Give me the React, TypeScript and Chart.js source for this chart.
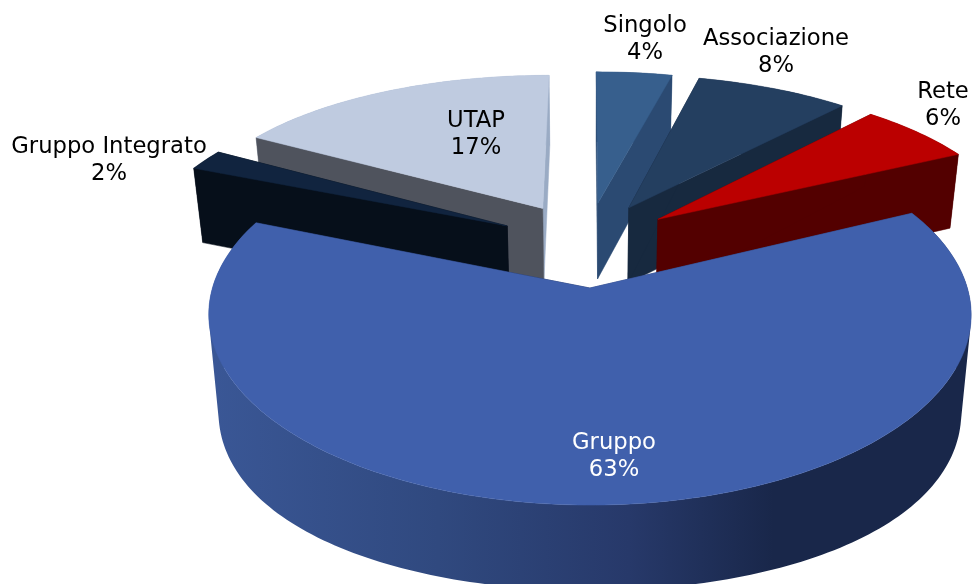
import React, { useEffect, useRef } from "react";
import { Chart, registerables } from "chart.js";

Chart.register(...registerables);

const categories = ["Singolo", "Associazione", "Rete", "Gruppo", "Gruppo Integrato", "UTAP"];
const shares = [4, 8, 6, 63, 2, 17];
const topColors = ["#375f8d", "#243f60", "#bb0000", "#4060ac", "#11243f", "#bfcbe0"];
const cutColors = ["#2b4a72", "#17293f", "#530000", "#2a3c6e", "#060f1a", "#4f535d"];
const rimColors = ["#2b4a72", "#17293f", "#530000", "#19274a", "#060f1a", "#9aabc4"];
const textColors = ["#000000", "#000000", "#000000", "#ffffff", "#000000", "#000000"];
const drawOrder = [5, 0, 1, 2, 4, 3];
const labelCentres = [
  [645, 40], [776, 53], [943, 106], [614, 457], [109, 161], [476, 134.5],
];
const gruppoWallStops: [number, string][] = [
  [0, "#3a5796"], [0.3, "#30497f"], [0.55, "#27396a"], [0.74, "#19274a"], [1, "#19274a"],
];

const CX = 587, CY = 243.8, RX = 365, RY = 174.6;
const PERSP = 0.135, EXPLODE = 0.245, DROP = 79, DROP_NEAR = 45, FAR = 0.025;

type Pt = [number, number];
function project(u: number, v: number, low: boolean): Pt {
  const w = 1 - PERSP * v + (low ? FAR : 0);
  const back = v < 0 ? v * v : 0;
  const past = Math.max(0, v - 0.4);
  const drop = low ? DROP + DROP_NEAR * Math.min(0.4, Math.max(0, v)) - 24 * past * past : 0;
  return [
    CX + ((RX * u) / w) * (1 - 0.02 * back),
    CY + (RY * v + drop) / w + 9 * back,
  ];
}

function paint(ctx: CanvasRenderingContext2D, fill: string | CanvasGradient) {
  ctx.fillStyle = fill;
  ctx.fill();
  ctx.strokeStyle = fill;
  ctx.lineWidth = 0.5;
  ctx.stroke();
}

function fillPath(ctx: CanvasRenderingContext2D, pts: Pt[], fill: string | CanvasGradient) {
  ctx.beginPath();
  pts.forEach((p, i) => (i ? ctx.lineTo(p[0], p[1]) : ctx.moveTo(p[0], p[1])));
  ctx.closePath();
  paint(ctx, fill);
}

function signedArea(q: Pt[]) {
  let s = 0;
  q.forEach((p, i) => {
    const r = q[(i + 1) % q.length];
    s += p[0] * r[1] - r[0] * p[1];
  });
  return s;
}

const pie3d = {
  id: "pie3d",
  afterDatasetsDraw(chart: any) {
    const ctx: CanvasRenderingContext2D = chart.ctx;
    const arcs = chart.getDatasetMeta(0).data;
    ctx.save();
    for (const i of drawOrder) {
      const a0 = arcs[i].startAngle + Math.PI / 2;
      const a1 = arcs[i].endAngle + Math.PI / 2;
      const mid = (a0 + a1) / 2;
      const ou = EXPLODE * Math.sin(mid);
      const ov = -EXPLODE * Math.cos(mid);
      const n = Math.max(4, Math.round((a1 - a0) / 0.02));
      const rimTop: Pt[] = [];
      const rimLow: Pt[] = [];
      for (let k = 0; k <= n; k++) {
        const t = a0 + ((a1 - a0) * k) / n;
        const u = ou + Math.sin(t);
        const v = ov - Math.cos(t);
        rimTop.push(project(u, v, false));
        rimLow.push(project(u, v, true));
      }
      const apexTop = project(ou, ov, false);
      const apexLow = project(ou, ov, true);
      // outer wall: every step wound the same way, one path, so no seams or fold gaps
      let wall: string | CanvasGradient = rimColors[i];
      if (i === 3) {
        const g = ctx.createLinearGradient(209, 0, 972, 0);
        gruppoWallStops.forEach(([o, c]) => g.addColorStop(o, c));
        wall = g;
      }
      ctx.beginPath();
      for (let k = 0; k < n; k++) {
        let q: Pt[] = [rimTop[k], rimTop[k + 1], rimLow[k + 1], rimLow[k]];
        if (signedArea(q) < 0) q = q.reverse();
        q.forEach((p, j) => (j ? ctx.lineTo(p[0], p[1]) : ctx.moveTo(p[0], p[1])));
        ctx.closePath();
      }
      ctx.fillStyle = wall;
      ctx.fill("nonzero");
      // cut faces
      fillPath(ctx, [apexTop, rimTop[n], rimLow[n], apexLow], rimColors[i]);
      fillPath(ctx, [apexTop, rimTop[0], rimLow[0], apexLow], cutColors[i]);
      // top face
      fillPath(ctx, [apexTop, ...rimTop], topColors[i]);
    }
    ctx.font = '22.7px "DejaVu Sans"';
    ctx.textAlign = "center";
    ctx.textBaseline = "middle";
    categories.forEach((name, i) => {
      const [x, y] = labelCentres[i];
      ctx.fillStyle = textColors[i];
      ctx.fillText(name, x, y - 13.5);
      ctx.fillText(`${shares[i]}%`, x, y + 13.5);
    });
    ctx.restore();
  },
};

export default function App() {
  const ref = useRef<HTMLCanvasElement>(null);
  useEffect(() => {
    const chart = new Chart(ref.current!, {
      type: "pie",
      data: {
        labels: categories,
        datasets: [{ data: shares, backgroundColor: "transparent", borderWidth: 0 }],
      },
      options: {
        animation: false,
        responsive: false,
        plugins: { legend: { display: false }, tooltip: { enabled: false } },
      },
      plugins: [pie3d],
    } as any);
    return () => chart.destroy();
  }, []);
  return (
    <canvas
      ref={ref}
      width={972}
      height={584}
      style={{ position: "fixed", left: 0, top: 0, width: 972, height: 584 }}
    />
  );
}
